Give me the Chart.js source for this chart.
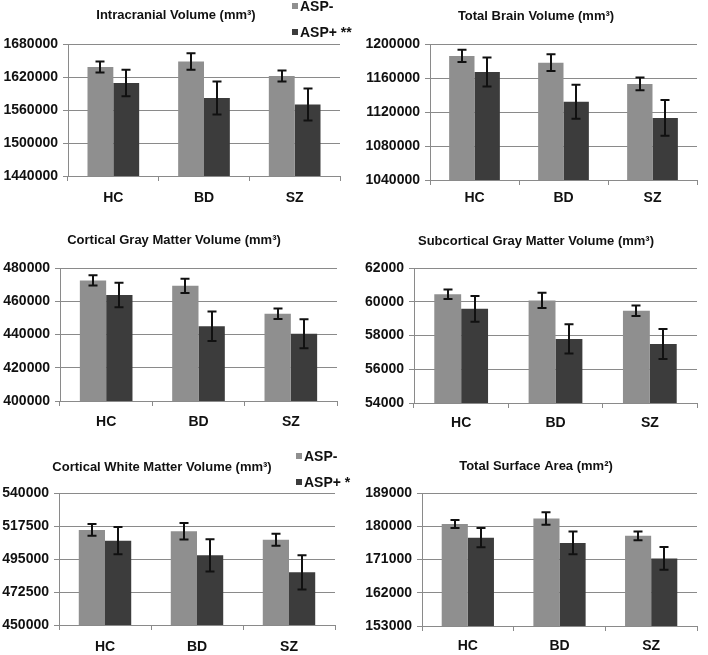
<!DOCTYPE html>
<html>
<head>
<meta charset="utf-8">
<script src="https://cdn.jsdelivr.net/npm/chart.js@4.4.1/dist/chart.umd.min.js"></script>
<style>
  html, body { margin:0; padding:0; background:#fff; width:708px; height:655px; overflow:hidden; position:relative; }
  body { font-family: "Liberation Sans", Arial, sans-serif; }
  canvas { position:absolute; }
  .lgItem { position:absolute; height:16px; line-height:16px; font-size:14px; font-weight:bold; color:#111; white-space:nowrap; display:flex; align-items:center; }
  .lgItem .sw { display:inline-block; width:6px; height:6px; margin-right:2px; }
</style>
</head>
<body>
<script>
// ---------- DATA ----------
const categories = ['HC', 'BD', 'SZ'];
const seriesNames = ['ASP-', 'ASP+'];

// Intracranial Volume
const icvTicks  = [1440000, 1500000, 1560000, 1620000, 1680000];
const icvNeg    = [1638000, 1648000, 1622000];
const icvNegErr = [10000, 15000, 10000];
const icvPos    = [1609000, 1582000, 1570000];
const icvPosErr = [24000, 30000, 29000];

// Total Brain Volume
const tbvTicks  = [1040000, 1080000, 1120000, 1160000, 1200000];
const tbvNeg    = [1186000, 1178000, 1153000];
const tbvNegErr = [7300, 9800, 7500];
const tbvPos    = [1167000, 1132000, 1113000];
const tbvPosErr = [17000, 20000, 21000];

// Cortical Gray Matter Volume
const cgmTicks  = [400000, 420000, 440000, 460000, 480000];
const cgmNeg    = [472500, 469300, 452500];
const cgmNegErr = [3100, 4300, 3200];
const cgmPos    = [463800, 445000, 440500];
const cgmPosErr = [7400, 8900, 8700];

// Subcortical Gray Matter Volume
const sgmTicks  = [54000, 56000, 58000, 60000, 62000];
const sgmNeg    = [60440, 60080, 59470];
const sgmNegErr = [280, 450, 310];
const sgmPos    = [59580, 57800, 57500];
const sgmPosErr = [760, 870, 890];

// Cortical White Matter Volume
const cwmTicks  = [450000, 472500, 495000, 517500, 540000];
const cwmNeg    = [514800, 513900, 508200];
const cwmNegErr = [4000, 5600, 4100];
const cwmPos    = [507500, 497500, 485900];
const cwmPosErr = [9300, 11000, 11700];

// Total Surface Area
const tsaTicks  = [153000, 162000, 171000, 180000, 189000];
const tsaNeg    = [180600, 182100, 177400];
const tsaNegErr = [1100, 1700, 1200];
const tsaPos    = [176900, 175500, 171300];
const tsaPosErr = [2600, 3100, 3100];

// ---------- STYLE / LAYOUT ----------
const COLORS = ['#8f8f8f', '#3c3c3c'];
const GRID = '#8a8a8a';
const TEXT = '#111';
const FONT = '"Liberation Sans", Arial, sans-serif';

const panels = [
  { title:'Intracranial Volume (mm³)', ticks:icvTicks, neg:icvNeg, negErr:icvNegErr, pos:icvPos, posErr:icvPosErr, posLabel:'ASP+ **',
    canvas:{x:-20, y:0, w:374, h:210}, area:{l:68, r:340, t:44, b:176}, titleC:{x:176, y:15.5}, labelY:198,
    legend:{x:292, y1:6, y2:32} },
  { title:'Total Brain Volume (mm³)', ticks:tbvTicks, neg:tbvNeg, negErr:tbvNegErr, pos:tbvPos, posErr:tbvPosErr, posLabel:'ASP+',
    canvas:{x:354, y:0, w:354, h:210}, area:{l:430, r:697, t:44, b:180}, titleC:{x:536, y:16}, labelY:198.5 },
  { title:'Cortical Gray Matter Volume (mm³)', ticks:cgmTicks, neg:cgmNeg, negErr:cgmNegErr, pos:cgmPos, posErr:cgmPosErr, posLabel:'ASP+',
    canvas:{x:-20, y:210, w:374, h:225}, area:{l:60, r:337, t:268, b:401}, titleC:{x:174, y:240}, labelY:422 },
  { title:'Subcortical Gray Matter Volume (mm³)', ticks:sgmTicks, neg:sgmNeg, negErr:sgmNegErr, pos:sgmPos, posErr:sgmPosErr, posLabel:'ASP+',
    canvas:{x:354, y:210, w:354, h:225}, area:{l:414, r:697, t:268, b:403}, titleC:{x:536, y:241}, labelY:423 },
  { title:'Cortical White Matter Volume (mm³)', ticks:cwmTicks, neg:cwmNeg, negErr:cwmNegErr, pos:cwmPos, posErr:cwmPosErr, posLabel:'ASP+ *',
    canvas:{x:-20, y:435, w:374, h:220}, area:{l:59, r:335, t:493, b:625}, titleC:{x:162, y:467}, labelY:647,
    legend:{x:296, y1:456, y2:482} },
  { title:'Total Surface Area (mm²)', ticks:tsaTicks, neg:tsaNeg, negErr:tsaNegErr, pos:tsaPos, posErr:tsaPosErr, posLabel:'ASP+',
    canvas:{x:354, y:435, w:354, h:220}, area:{l:422, r:697, t:493, b:626}, titleC:{x:536, y:466}, labelY:646 }
];

const TITLE_SIZE = 13, TITLE_LH = TITLE_SIZE * 1.2;
const XLAB_SIZE = 14, XLAB_LH = XLAB_SIZE * 1.2;
const YLAB_SIZE = 14;
const TICK_LEN = 5;
const MIN_YW = 66;

// error bar plugin, positions from the chart's own y scale
const errorBars = {
  id: 'errorBars',
  afterDatasetsDraw(chart) {
    const ctx = chart.ctx, y = chart.scales.y;
    chart.data.datasets.forEach((ds, di) => {
      const meta = chart.getDatasetMeta(di);
      meta.data.forEach((bar, i) => {
        const v = ds.data[i], e = ds.errors[i];
        const yt = y.getPixelForValue(v + e), yb = y.getPixelForValue(v - e);
        const x = Math.round(bar.x);
        ctx.save();
        ctx.strokeStyle = '#111';
        ctx.lineWidth = 2;
        ctx.beginPath();
        ctx.moveTo(x, yt); ctx.lineTo(x, yb);
        ctx.moveTo(x - 4.5, yt); ctx.lineTo(x + 4.5, yt);
        ctx.moveTo(x - 4.5, yb); ctx.lineTo(x + 4.5, yb);
        ctx.stroke();
        ctx.restore();
      });
    });
  }
};

Chart.defaults.font.family = FONT;
Chart.defaults.color = TEXT;

panels.forEach(p => {
  const cv = document.createElement('canvas');
  cv.width = p.canvas.w; cv.height = p.canvas.h;
  cv.style.left = p.canvas.x + 'px'; cv.style.top = p.canvas.y + 'px';
  cv.style.width = p.canvas.w + 'px'; cv.style.height = p.canvas.h + 'px';
  document.body.appendChild(cv);

  const a = p.area, c = p.canvas;
  // horizontal: title spans from y-axis box left to (plot right + spacer)
  let titleLeft = a.l - MIN_YW;
  let titleRight = 2 * p.titleC.x - titleLeft;
  if (titleRight < a.r) { titleRight = a.r; titleLeft = 2 * p.titleC.x - a.r; }
  const yW = a.l - titleLeft;
  const spacerW = titleRight - a.r;
  const padLeft = titleLeft - c.x;
  const padRight = c.x + c.w - titleRight;
  // vertical
  const xH = c.y + c.h - a.b;
  const titleTop = p.titleC.y - c.y - TITLE_LH / 2;
  const titleBottom = a.t - p.titleC.y - TITLE_LH / 2;
  const xPad = p.labelY - a.b - TICK_LEN - XLAB_LH / 2;

  const scales = {
    x: {
      grid: { display: true, drawOnChartArea: false, drawTicks: true, tickLength: TICK_LEN, color: GRID, offset: true },
      border: { display: true, color: GRID, width: 1 },
      ticks: { font: { size: XLAB_SIZE, weight: 'bold', family: FONT, lineHeight: 1.2 }, color: TEXT, padding: xPad, maxRotation: 0 },
      afterFit(s) { s.height = xH; }
    },
    y: {
      min: p.ticks[0], max: p.ticks[p.ticks.length - 1],
      afterBuildTicks(s) { s.ticks = p.ticks.map(v => ({ value: v })); },
      grid: { color: GRID, lineWidth: 1, drawTicks: true, tickLength: TICK_LEN },
      border: { display: true, color: GRID, width: 1 },
      ticks: { font: { size: YLAB_SIZE, weight: 'bold', family: FONT }, color: TEXT, padding: 5,
               callback: (v) => String(v) },
      afterFit(s) { s.width = yW; }
    }
  };
  if (spacerW > 0.5) {
    scales.spacer = {
      type: 'linear', position: 'right', display: true,
      grid: { display: false }, border: { display: false }, ticks: { display: false },
      afterFit(s) { s.width = spacerW; }
    };
  }

  new Chart(cv, {
    type: 'bar',
    data: {
      labels: categories,
      datasets: [
        { label: seriesNames[0], data: p.neg, errors: p.negErr, backgroundColor: COLORS[0], borderWidth: 0 },
        { label: p.posLabel, data: p.pos, errors: p.posErr, backgroundColor: COLORS[1], borderWidth: 0 }
      ]
    },
    options: {
      responsive: false,
      animation: false,
      devicePixelRatio: 1,
      layout: { padding: { left: padLeft, right: padRight, top: 0, bottom: 0 } },
      datasets: { bar: { categoryPercentage: 0.57, barPercentage: 1.0 } },
      plugins: {
        legend: { display: false },
        tooltip: { enabled: false },
        title: {
          display: true, text: p.title, color: TEXT,
          font: { size: TITLE_SIZE, weight: 'bold', family: FONT, lineHeight: 1.2 },
          padding: { top: titleTop, bottom: titleBottom }
        }
      },
      scales
    },
    plugins: [errorBars]
  });

  if (p.legend) {
    const items = [[seriesNames[0], COLORS[0], p.legend.y1], [p.posLabel, COLORS[1], p.legend.y2]];
    items.forEach(([txt, col, cy]) => {
      const d = document.createElement('div');
      d.className = 'lgItem';
      d.style.left = p.legend.x + 'px';
      d.style.top = (cy - 8) + 'px';
      const sw = document.createElement('span');
      sw.className = 'sw'; sw.style.background = col;
      d.appendChild(sw);
      d.appendChild(document.createTextNode(txt));
      document.body.appendChild(d);
    });
  }
});
</script>
</body>
</html>
